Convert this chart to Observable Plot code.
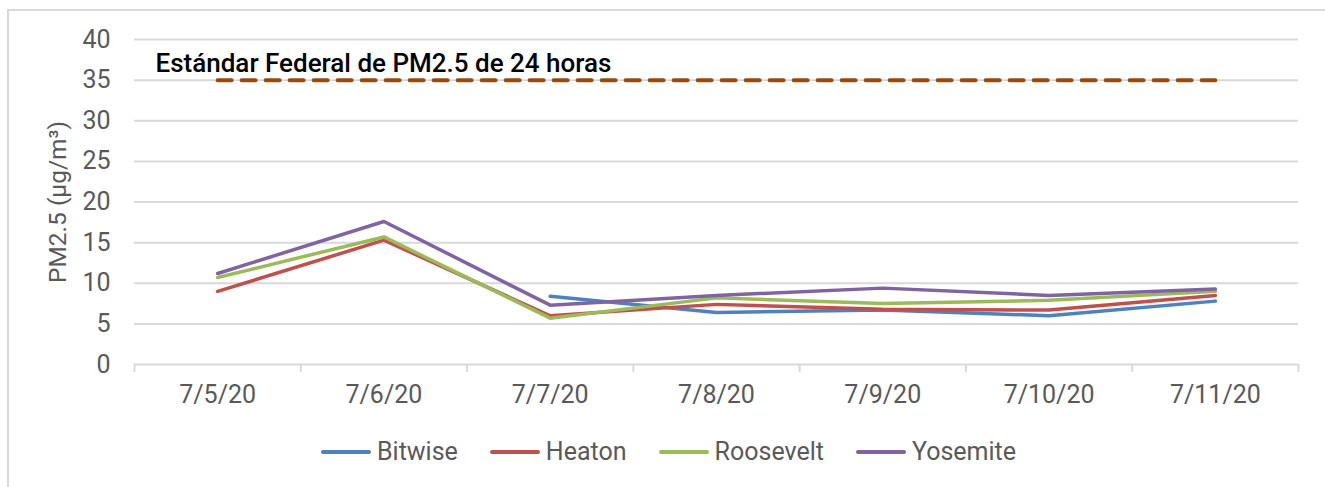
<!DOCTYPE html>
<html>
<head>
<meta charset="utf-8">
<script src="https://cdn.jsdelivr.net/npm/d3@7"></script>
<script src="https://cdn.jsdelivr.net/npm/@observablehq/plot@0.6"></script>
<style>
  html, body { margin: 0; padding: 0; background: #fff; }
  body { width: 1325px; height: 487px; position: relative; overflow: hidden; font-family: Roboto, "Liberation Sans", sans-serif; }
  #frame { position: absolute; left: 7px; top: 9px; width: 1400px; height: 600px; border-left: 2px solid #d9d9d9; border-top: 2px solid #d9d9d9; }
  #chart { position: absolute; left: 0; top: 0; }
  #legend { position: absolute; left: 321px; top: 436px; display: flex; align-items: center; font-size: 25px; color: #595959; line-height: 32px; }
  .item { display: flex; align-items: center; margin-right: 32px; }
  .sw { width: 50px; height: 4px; border-radius: 2px; margin-right: 6px; }
</style>
</head>
<body>
<div id="frame"></div>
<div id="chart"></div>
<div id="legend"></div>
<script>
const dates = ["7/5/20", "7/6/20", "7/7/20", "7/8/20", "7/9/20", "7/10/20", "7/11/20"];
const seriesNames = ["Bitwise", "Heaton", "Roosevelt", "Yosemite"];
const colors = ["#4f81bd", "#c0504d", "#9bbb59", "#8064a2"];
const bitwise   = [null, null, 8.4, 6.4, 6.7, 6.0, 7.8];
const heaton    = [9.0, 15.3, 6.0, 7.4, 6.8, 6.7, 8.5];
const roosevelt = [10.7, 15.7, 5.7, 8.2, 7.5, 7.9, 9.0];
const yosemite  = [11.2, 17.6, 7.3, 8.5, 9.4, 8.5, 9.3];
const standard  = [35, 35, 35, 35, 35, 35, 35];
const standardLabel = "Estándar Federal de PM2.5 de 24 horas";
const yTitle = "PM2.5 (µg/m³)";
const yTicks = [0, 5, 10, 15, 20, 25, 30, 35, 40];

const allSeries = [bitwise, heaton, roosevelt, yosemite];
const rows = [];
allSeries.forEach((vals, s) => {
  vals.forEach((v, i) => { if (v != null) rows.push({series: seriesNames[s], i, value: v}); });
});
const stdRows = standard.map((v, i) => ({i, value: v}));
const boundaries = d3.range(dates.length + 1).map(k => k - 0.5);

const chart = Plot.plot({
  width: 1325,
  height: 410,
  marginLeft: 134,
  marginRight: 27,
  marginTop: 39,
  marginBottom: 46,
  style: {fontFamily: "Roboto, 'Liberation Sans', sans-serif", background: "transparent"},
  x: {type: "linear", domain: [-0.5, dates.length - 0.5]},
  y: {domain: [0, 40]},
  color: {domain: seriesNames, range: colors},
  marks: [
    Plot.gridY(yTicks.slice(1), {stroke: "#d9d9d9", strokeOpacity: 1, strokeWidth: 2}),
    Plot.ruleY([0], {stroke: "#d9d9d9", strokeWidth: 2}),
    Plot.axisX(boundaries, {tickSize: 8, stroke: "#d9d9d9", strokeWidth: 2, text: null, label: null}),
    Plot.axisX(d3.range(dates.length), {tickSize: 0, tickPadding: 21, tickFormat: i => dates[i], fontSize: 25, fill: "#595959", label: null}),
    Plot.axisY(yTicks, {tickSize: 0, tickPadding: 24, fontSize: 25, fill: "#595959", label: null}),
    Plot.text([yTitle], {frameAnchor: "left", dx: -76, y: () => 20, rotate: -90, text: d => d, fontSize: 24.5, fill: "#595959", textAnchor: "middle"}),
    Plot.line(stdRows, {x: "i", y: "value", stroke: "#9a4a0c", strokeWidth: 4, strokeDasharray: "14,10", strokeLinecap: "round"}),
    Plot.text([standardLabel], {x: () => -0.5, y: () => 35, text: d => d, dx: 21, dy: -16, textAnchor: "start", fontSize: 26, fill: "#000", fontWeight: 500}),
    Plot.line(rows, {x: "i", y: "value", z: "series", stroke: "series", strokeWidth: 3.5, strokeLinejoin: "round", strokeLinecap: "round"})
  ]
});
document.getElementById("chart").appendChild(chart);

const legend = document.getElementById("legend");
seriesNames.forEach((n, k) => {
  const it = document.createElement("div");
  it.className = "item";
  const sw = document.createElement("div");
  sw.className = "sw";
  sw.style.background = colors[k];
  const tx = document.createElement("span");
  tx.textContent = n;
  it.appendChild(sw); it.appendChild(tx);
  legend.appendChild(it);
});
</script>
</body>
</html>
